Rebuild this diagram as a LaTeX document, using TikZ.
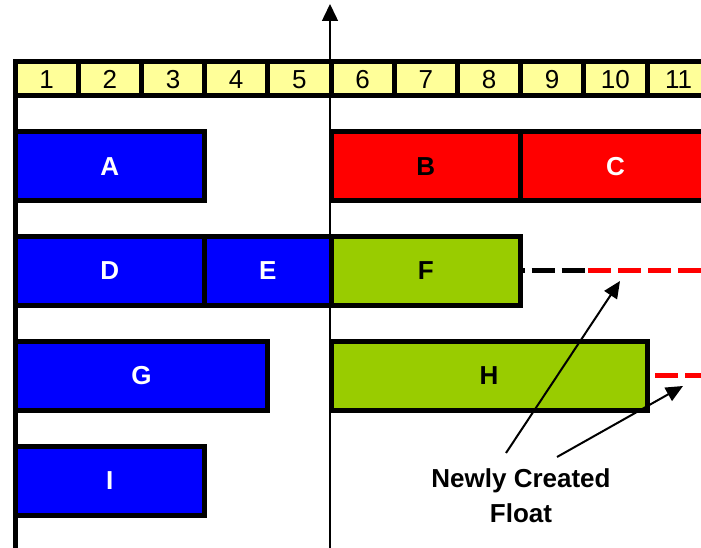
\documentclass[tikz,border=0pt]{standalone}
\usepackage{fontspec}
\setmainfont{Liberation Sans}
\usetikzlibrary{arrows.meta}
\definecolor{barblue}{RGB}{0,0,255}
\definecolor{barred}{RGB}{255,0,0}
\definecolor{bargreen}{RGB}{153,204,0}
\definecolor{cellyellow}{RGB}{255,255,153}
\tikzset{
  bar/.style={draw=black, line width=5pt, minimum height=69pt, inner sep=0pt, outer sep=0pt,
    font=\fontsize{26}{30}\selectfont\bfseries},
  cell/.style={draw=black, line width=5pt, fill=cellyellow, minimum width=63.2pt, minimum height=34pt,
    inner sep=0pt, outer sep=0pt, text height=18.7pt, text depth=0pt, font=\fontsize{26}{30}\selectfont},
  float/.style={line width=5pt, dash pattern=on 23pt off 7pt},
  pointer/.style={line width=2pt, -{Triangle[length=17pt,width=15pt]}}
}
\begin{document}
\begin{tikzpicture}[x=1pt,y=-1pt]
        \useasboundingbox (0,0) rectangle (701,548);
        \clip (0,0) rectangle (701,548);
        % time scale
        \foreach \n in {1,...,11}
            \node[cell] (c\n) at ({15+63.2*(\n-0.5)},79) {\n};
        \draw[line width=5pt] (15,62) -- (15,552);
        \draw[line width=1.5pt, -{Triangle[length=17pt,width=16pt]}] (330,552) -- (330,4);
        % activities
        \node[bar, fill=barblue, text=white, minimum width=189.6pt] (A) at (109.8,166.5) {A};
        \node[bar, fill=barred, text=black, minimum width=189.6pt] (B) at (425.8,166.5) {B};
        \node[bar, fill=barred, text=white, minimum width=189.6pt] (C) at (615.4,166.5) {C};
        \node[bar, fill=barblue, text=white, minimum width=189.6pt] (D) at (109.8,270.5) {D};
        \node[bar, fill=barblue, text=white, minimum width=126.4pt] (E) at (267.8,270.5) {E};
        \node[bar, fill=bargreen, text=black, minimum width=189.6pt] (F) at (425.8,270.5) {F};
        \node[bar, fill=barblue, text=white, minimum width=252.8pt] (G) at (141.4,375.5) {G};
        \node[bar, fill=bargreen, text=black, minimum width=316pt] (H) at (489,375.5) {H};
        \node[bar, fill=barblue, text=white, minimum width=189.6pt] (I) at (109.8,480.5) {I};
        % float
        \coordinate (Fmid) at (585,270.5);
        \coordinate (Fend) at (715,270.5);
        \coordinate (Hbeg) at (655,375.5);
        \coordinate (Hend) at (715,375.5);
        \draw[float, black, dash phase=19pt] (F.east) -- (Fmid);
        \draw[float, barred, dash phase=-3pt] (Fmid) -- (Fend);
        \draw[float, barred] (Hbeg) -- (Hend);
        \node[font=\fontsize{26}{35}\selectfont\bfseries, align=center] (note) at (521,496) {Newly Created\\Float};
        \coordinate (n1) at (506,453);
        \coordinate (n2) at (557,457);
        \coordinate (t1) at (620,281);
        \coordinate (t2) at (683,386);
        \draw[pointer] (n1) -- (t1);
        \draw[pointer] (n2) -- (t2);
\end{tikzpicture}
\end{document}
